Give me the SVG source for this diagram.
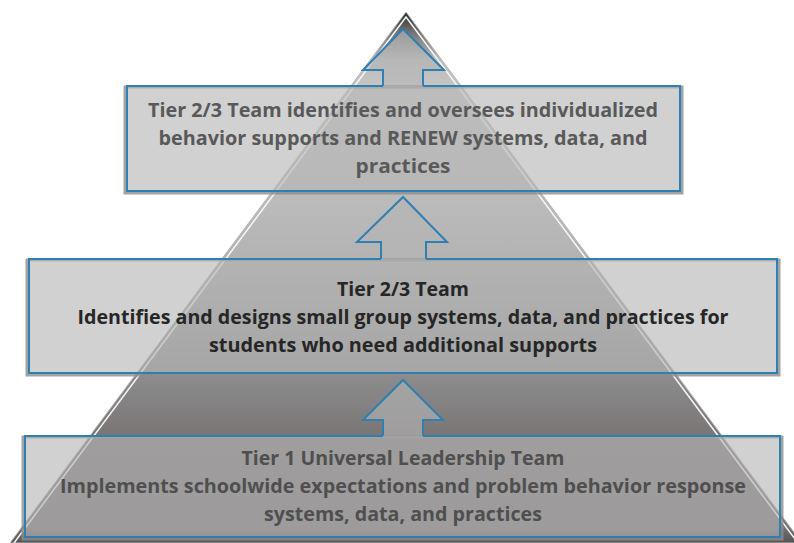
<svg xmlns="http://www.w3.org/2000/svg" width="794" height="543" viewBox="0 0 794 543">
  <defs>
    <linearGradient id="pyr" x1="0" y1="12" x2="0" y2="543" gradientUnits="userSpaceOnUse">
      <stop offset="0" stop-color="#2a2a2a"/>
      <stop offset="0.035" stop-color="#6e6e6e"/>
      <stop offset="0.09" stop-color="#bcbcbc"/>
      <stop offset="0.16" stop-color="#c9c9c9"/>
      <stop offset="0.45" stop-color="#b4b4b4"/>
      <stop offset="0.69" stop-color="#8b8b8b"/>
      <stop offset="0.79" stop-color="#7c7777"/>
      <stop offset="0.97" stop-color="#777171"/>
      <stop offset="1" stop-color="#585555"/>
    </linearGradient>
    <style>
      .box { fill: #b4b4b4; fill-opacity: 0.62; }
      .shadow { fill: none; stroke: #8c8c8c; stroke-width: 3; stroke-opacity: 0.8; }
      .edge { fill: none; stroke: #2f7fb3; stroke-width: 2; }
      .arrow { fill: #b4b4b4; fill-opacity: 0.62; stroke: #2f7fb3; stroke-width: 2; stroke-linejoin: miter; }
      text { font-family: "Open Sans", "Liberation Sans", sans-serif; font-weight: bold; font-size: 19.5px; text-anchor: middle; }
      .t1 { fill: #595959; }
      .t2 { fill: #262626; }
      .t3 { fill: #4f4f4f; }
    </style>
  </defs>

  <rect width="794" height="543" fill="#ffffff"/>

  <g id="pyramid">
    <polygon points="406,12 10,543 802,543" fill="url(#pyr)" stroke="#b5b5b5" stroke-width="1"/>
    <polyline points="14,543 406,17 798,543" fill="none" stroke="#f6f6f6" stroke-width="1.5"/>
  </g>

  <g id="connectors">
    <path class="arrow" d="M383 86 V70 H363 L403 29 L444 70 H423 V86"/>
    <path class="arrow" d="M381 259 V242 H357 L403 197 L447 242 H426 V259"/>
    <path class="arrow" d="M383 436 V420 H363 L403 380 L443 420 H423 V436"/>
  </g>

  <g id="tier3">
    <rect class="shadow" x="125" y="87" width="557" height="106"/>
    <rect class="box" x="127" y="86" width="553" height="105"/>
    <path class="edge" d="M423 86 H680 V191 H127 V86 H383"/>
    <text class="t1" x="403" y="117" textLength="510" lengthAdjust="spacingAndGlyphs">Tier 2/3 Team identifies and oversees individualized</text>
    <text class="t1" x="403" y="145" textLength="489" lengthAdjust="spacingAndGlyphs">behavior supports and RENEW systems, data, and</text>
    <text class="t1" x="403" y="173" textLength="95" lengthAdjust="spacingAndGlyphs">practices</text>
  </g>

  <g id="tier2">
    <rect class="shadow" x="27" y="260" width="752" height="115"/>
    <rect class="box" x="29" y="259" width="748" height="114"/>
    <path class="edge" d="M426 259 H777 V373 H29 V259 H381"/>
    <text class="t2" x="403" y="296" textLength="132" lengthAdjust="spacingAndGlyphs">Tier 2/3 Team</text>
    <text class="t2" x="403" y="324" textLength="651" lengthAdjust="spacingAndGlyphs">Identifies and designs small group systems, data, and practices for</text>
    <text class="t2" x="403" y="352" textLength="388" lengthAdjust="spacingAndGlyphs">students who need additional supports</text>
  </g>

  <g id="tier1">
    <rect class="shadow" x="23" y="437" width="759" height="102"/>
    <rect class="box" x="25" y="436" width="755" height="101"/>
    <path class="edge" d="M423 436 H780 V537 H25 V436 H383"/>
    <text class="t3" x="403" y="465" textLength="323" lengthAdjust="spacingAndGlyphs">Tier 1 Universal Leadership Team</text>
    <text class="t3" x="403" y="493" textLength="686" lengthAdjust="spacingAndGlyphs">Implements schoolwide expectations and problem behavior response</text>
    <text class="t3" x="403" y="521" textLength="278" lengthAdjust="spacingAndGlyphs">systems, data, and practices</text>
  </g>
</svg>
